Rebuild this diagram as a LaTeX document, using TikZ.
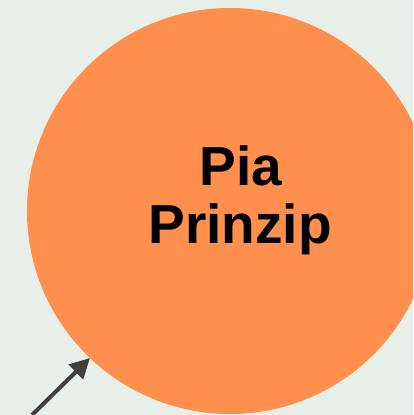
\documentclass[tikz,border=0pt]{standalone}
\usepackage{fontspec}
\setmainfont{Liberation Sans}
\usetikzlibrary{arrows.meta}
\definecolor{bgc}{HTML}{E8EEE8}
\definecolor{orangec}{HTML}{FF8F4C}
\definecolor{arrowc}{HTML}{404040}
\tikzset{
  label text/.style={font=\fontsize{55}{58}\selectfont\bfseries, text=black, inner sep=0pt, anchor=base},
  pointer/.style={draw=arrowc, line width=4pt, -{Triangle[length=20pt,width=20pt]}}
}
\begin{document}
\begin{tikzpicture}[x=1pt,y=1pt]
\fill[bgc] (0,0) rectangle (413,415);
\useasboundingbox (0,0) rectangle (413,415);
\begin{scope}
\clip (0,0) rectangle (413,415);
\node[circle, fill=orangec, minimum size=406pt, inner sep=0pt] (disc) at (230,204) {};
\end{scope}
\node[label text] (t1) at (241,229) {Pia};
\node[label text] (t2) at (240,171) {Prinzip};
\coordinate (start) at (32,0);
\coordinate (tip) at (90,57);
\draw[pointer] (start) -- (tip);
\end{tikzpicture}
\end{document}
